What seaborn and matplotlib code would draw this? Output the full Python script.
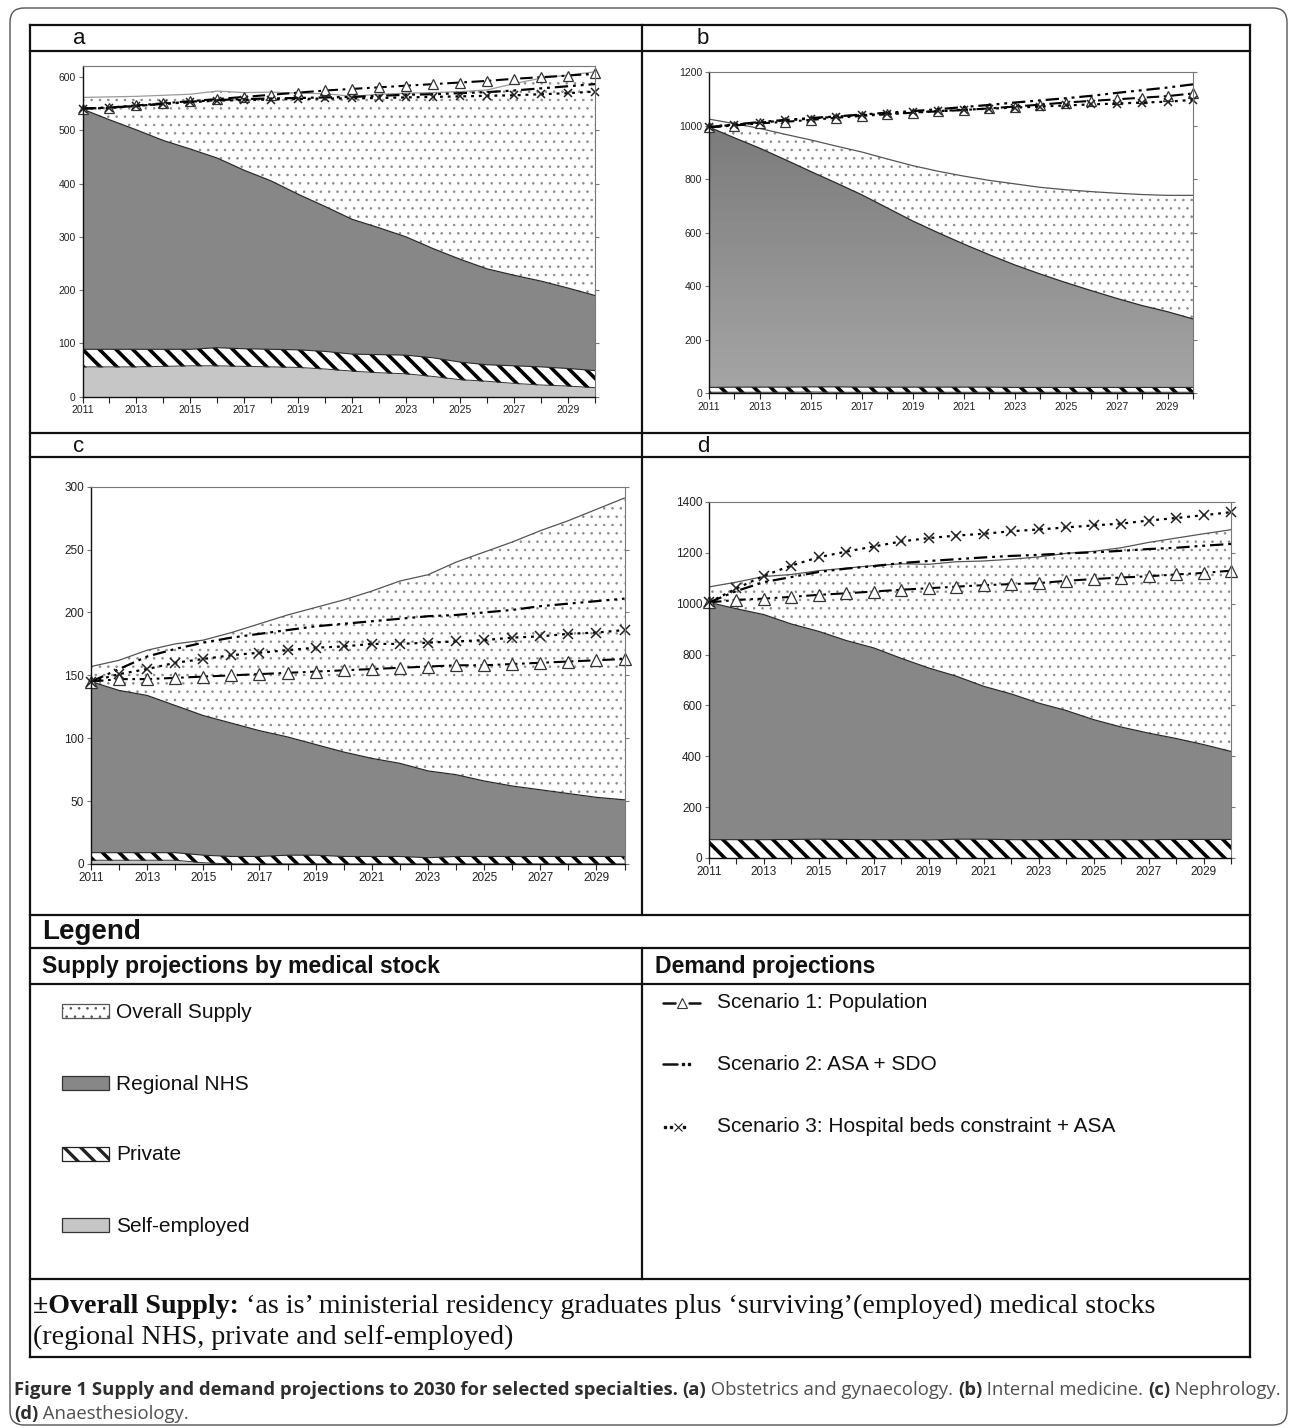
import numpy as np
import matplotlib
matplotlib.use("Agg")
import matplotlib.pyplot as plt
import seaborn as sns
from matplotlib.patches import Rectangle, FancyBboxPatch
from matplotlib.colors import LinearSegmentedColormap

# ---------------- data (levels) ----------------
years = list(range(2011, 2031))
tick_labels = ["2011", "2013", "2015", "2017", "2019", "2021", "2023", "2025", "2027", "2029"]

# (a) Obstetrics and gynaecology
a_self = [56, 56, 56, 57, 58, 58, 57, 56, 55, 52, 48, 45, 43, 38, 32, 29, 25, 22, 20, 17]
a_private = [89, 89, 89, 89, 89, 92, 90, 89, 88, 85, 80, 79, 78, 73, 65, 60, 58, 56, 53, 49]
a_nhs = [540, 520, 501, 481, 465, 448, 425, 405, 380, 357, 333, 317, 300, 278, 258, 240, 228, 217, 204, 190]
a_overall = [562, 563, 564, 566, 568, 574, 571, 572, 570, 569, 564, 568, 570, 571, 573, 576, 588, 598, 604, 610]
a_sc1 = [541, 543, 547, 551, 555, 559, 563, 567, 571, 575, 578, 581, 584, 587, 590, 593, 597, 600, 603, 607]
a_sc2 = [541, 543, 546, 550, 554, 557, 559, 560, 561, 562, 563, 565, 567, 568, 570, 572, 575, 579, 583, 587]
a_sc3 = [541, 542, 546, 550, 553, 556, 557, 558, 559, 560, 560, 561, 562, 563, 564, 565, 566, 568, 570, 573]

# (b) Internal medicine
b_self = [4, 4, 4, 4, 5, 4, 4, 4, 4, 4, 4, 4, 4, 4, 4, 4, 4, 4, 4, 4]
b_private = [22, 23, 23, 23, 24, 24, 23, 23, 23, 23, 23, 23, 22, 22, 22, 22, 22, 22, 22, 22]
b_nhs = [995, 955, 916, 873, 829, 786, 742, 693, 644, 600, 558, 518, 480, 446, 414, 384, 355, 328, 305, 278]
b_overall = [1025, 1008, 990, 968, 947, 924, 902, 876, 851, 830, 812, 796, 783, 770, 761, 754, 748, 743, 740, 740]
b_sc1 = [994, 1001, 1009, 1015, 1022, 1030, 1037, 1043, 1049, 1054, 1059, 1065, 1072, 1079, 1087, 1093, 1099, 1105, 1111, 1121]
b_sc2 = [995, 1005, 1014, 1022, 1029, 1035, 1042, 1049, 1055, 1062, 1070, 1078, 1087, 1095, 1103, 1112, 1123, 1133, 1143, 1155]
b_sc3 = [995, 1004, 1012, 1020, 1027, 1034, 1040, 1045, 1050, 1055, 1060, 1064, 1068, 1072, 1076, 1080, 1083, 1087, 1090, 1097]

# (c) Nephrology
c_self = [3, 3, 3, 3, 1, 0, 0, 0, 0, 0, 0, 0, 0, 0, 0, 0, 0, 0, 0, 0]
c_private = [9, 9, 9, 9, 7, 6, 6, 7, 7, 6, 6, 6, 5, 6, 6, 6, 6, 6, 6, 6]
c_nhs = [145, 138, 134, 126, 118, 112, 106, 101, 95, 89, 84, 80, 74, 71, 66, 62, 59, 56, 53, 51]
c_overall = [157, 162, 170, 175, 178, 184, 191, 198, 204, 210, 217, 225, 230, 240, 248, 256, 265, 273, 282, 291]
c_sc1 = [145, 147, 147, 148, 149, 150, 151, 152, 153, 154, 155, 156, 157, 158, 158, 159, 160, 161, 162, 163]
c_sc2 = [145, 155, 165, 171, 176, 180, 183, 186, 189, 191, 193, 195, 197, 198, 200, 202, 205, 207, 209, 211]
c_sc3 = [145, 151, 155, 160, 163, 166, 168, 170, 172, 173, 175, 175, 176, 177, 178, 180, 181, 183, 184, 186]

# (d) Anaesthesiology
d_self = [0, 0, 0, 0, 0, 0, 0, 0, 0, 0, 0, 0, 0, 0, 0, 0, 0, 0, 0, 0]
d_private = [72, 72, 72, 73, 74, 73, 72, 72, 71, 74, 74, 72, 72, 73, 72, 72, 72, 73, 73, 73]
d_nhs = [1005, 980, 957, 920, 891, 855, 826, 785, 747, 715, 675, 645, 609, 580, 544, 515, 491, 470, 446, 419]
d_overall = [1066, 1085, 1107, 1115, 1130, 1140, 1150, 1157, 1155, 1165, 1168, 1175, 1184, 1198, 1206, 1220, 1241, 1258, 1275, 1291]
d_sc1 = [1005, 1015, 1020, 1027, 1035, 1041, 1048, 1055, 1061, 1067, 1073, 1077, 1081, 1090, 1097, 1103, 1108, 1115, 1121, 1130]
d_sc2 = [1005, 1050, 1085, 1105, 1125, 1138, 1148, 1160, 1168, 1175, 1182, 1188, 1192, 1198, 1202, 1208, 1215, 1220, 1228, 1235]
d_sc3 = [1005, 1060, 1110, 1150, 1183, 1205, 1225, 1245, 1258, 1268, 1275, 1285, 1292, 1300, 1308, 1315, 1327, 1337, 1348, 1360]

panel_letters = ["a", "b", "c", "d"]
supply_labels = ["Overall Supply", "Regional NHS", "Private", "Self-employed"]
demand_labels = ["Scenario 1: Population", "Scenario 2: ASA + SDO",
                 "Scenario 3: Hospital beds constraint + ASA"]

# ---------------- style ----------------
W, H = 1290, 1428
sns.set_theme(style="white")
plt.rcParams["font.family"] = ["Liberation Sans", "DejaVu Sans"]
plt.rcParams["hatch.linewidth"] = 1.0

fig = plt.figure(figsize=(W / 100, H / 100), dpi=100)
fig.patch.set_facecolor("white")

NHS_COL = "#878787"
SELF_COL = "#c6c6c6"
DOT_COL = "#8a8a8a"
DOT_LW = 0.6
LS1 = (0, (6, 2.2, 1.3, 2.2))
LS2 = (0, (6, 2.2, 1.3, 2.2, 1.3, 2.2))
LS3 = (0, (1.3, 2.2))


def set_hlw(coll, lw):
    try:
        coll.set_hatch_linewidth(lw)
    except Exception:
        pass


def px_axes(l, t, r, b):
    return fig.add_axes([l / W, 1 - b / H, (r - l) / W, (b - t) / H])


def draw_panel(ax, s_self, s_priv, s_nhs, s_over, sc1, sc2, sc3, ylim, ystep,
               tfs, ms, grad=False, top_col="#555555"):
    x = years
    with plt.rc_context({"hatch.linewidth": DOT_LW}):
        over = ax.fill_between(x, 0, s_over, facecolor="white", edgecolor=DOT_COL,
                               hatch="..", linewidth=0, zorder=1)
    set_hlw(over, DOT_LW)
    nhs = ax.fill_between(x, 0, s_nhs, facecolor=NHS_COL, linewidth=0, zorder=2)
    if grad:
        nhs.set_facecolor("none")
        cmap = LinearSegmentedColormap.from_list("g", ["#a6a6a6", "#7b7b7b"])
        im = ax.imshow(np.linspace(0, 1, 256).reshape(-1, 1), extent=[2011, 2030, 0, max(s_nhs)],
                       origin="lower", aspect="auto", cmap=cmap, zorder=2,
                       interpolation="bilinear")
        im.set_clip_path(nhs.get_paths()[0], transform=ax.transData)
    with plt.rc_context({"hatch.linewidth": 2.6}):
        pr = ax.fill_between(x, 0, s_priv, facecolor="white", edgecolor="black",
                             hatch="\\\\", linewidth=0, zorder=3)
    set_hlw(pr, 2.6)
    if max(s_self) > 0:
        ax.fill_between(x, 0, s_self, facecolor=SELF_COL, linewidth=0, zorder=4)
        sns.lineplot(x=x, y=s_self, ax=ax, color="#333333", lw=0.7, legend=False, zorder=4.5)

    sns.lineplot(x=x, y=s_over, ax=ax, color=top_col, lw=0.9, legend=False, zorder=4.5)
    sns.lineplot(x=x, y=s_nhs, ax=ax, color="#2a2a2a", lw=0.9, legend=False, zorder=4.5)
    sns.lineplot(x=x, y=s_priv, ax=ax, color="#2a2a2a", lw=0.8, legend=False, zorder=4.5)

    sns.lineplot(x=x, y=sc1, ax=ax, color="black", lw=1.5, linestyle=LS1, marker="^",
                 markersize=ms, markerfacecolor="white", markeredgecolor="#333333",
                 markeredgewidth=0.9, legend=False, zorder=6, clip_on=False)
    sns.lineplot(x=x, y=sc2, ax=ax, color="black", lw=1.6, linestyle=LS2,
                 legend=False, zorder=6, clip_on=False)
    sns.lineplot(x=x, y=sc3, ax=ax, color="black", lw=1.6, linestyle=LS3, marker="x",
                 markersize=ms * 0.85, markeredgecolor="#222222", markeredgewidth=1.1,
                 legend=False, zorder=6, clip_on=False)

    ax.set_xlim(2011, 2030)
    ax.set_ylim(*ylim)
    ax.set_xticks(years)
    lab_map = {int(t): t for t in tick_labels}
    ax.set_xticklabels([lab_map.get(y, "") for y in years])
    ax.set_yticks(np.arange(0, ylim[1] + 1, ystep))
    ax.set_xlabel("")
    ax.set_ylabel("")
    ax.tick_params(axis="both", which="major", direction="out", length=4, width=0.8,
                   color="#222222", labelsize=tfs, labelcolor="#222222", pad=2,
                   bottom=True, left=True)
    ax.tick_params(axis="y", right=True, length=3, color="#777777")
    ax.grid(False)
    ax.set_facecolor("white")
    for side in ["left", "bottom"]:
        ax.spines[side].set_color("#111111")
        ax.spines[side].set_linewidth(1.0)
    for side in ["top", "right"]:
        ax.spines[side].set_color("#777777")
        ax.spines[side].set_linewidth(0.8)
    for sp in ax.spines.values():
        sp.set_zorder(7)


axA = px_axes(82.5, 66, 595, 396.7)
draw_panel(axA, a_self, a_private, a_nhs, a_overall, a_sc1, a_sc2, a_sc3,
           (0, 621), 100, 7.5, 6.5, top_col="#9a9a9a")
axB = px_axes(709, 72.3, 1193, 393.3)
draw_panel(axB, b_self, b_private, b_nhs, b_overall, b_sc1, b_sc2, b_sc3,
           (0, 1200), 200, 7.5, 6.5, grad=True)
axC = px_axes(91, 486.7, 624.5, 864)
draw_panel(axC, c_self, c_private, c_nhs, c_overall, c_sc1, c_sc2, c_sc3,
           (0, 300), 50, 8.5, 8.5)
axD = px_axes(709, 502, 1231, 858)
draw_panel(axD, d_self, d_private, d_nhs, d_overall, d_sc1, d_sc2, d_sc3,
           (0, 1400), 200, 8.5, 8.5)

# ---------------- overlay (table, legend, notes) ----------------
ov = fig.add_axes([0, 0, 1, 1], zorder=10)
ov.set_xlim(0, W)
ov.set_ylim(H, 0)
ov.axis("off")
ov.patch.set_alpha(0)


def hline(y, x0=30, x1=1250, lw=1.6):
    ov.plot([x0, x1], [y, y], color="#111111", lw=lw, solid_capstyle="projecting")


def vline(x, y0, y1, lw=1.6):
    ov.plot([x, x], [y0, y1], color="#111111", lw=lw, solid_capstyle="projecting")


ov.add_patch(FancyBboxPatch((10, 8), 1277, 1417, boxstyle="round,pad=0,rounding_size=14",
                            fill=False, ec="#555555", lw=1.0, clip_on=False))
for y in [24.5, 51, 433, 457, 915, 948, 984, 1279, 1357]:
    hline(y)
vline(30, 24.5, 1357)
vline(1250, 24.5, 1357)
vline(641.5, 24.5, 915)
vline(641.5, 948, 1279)

for letter, (lx, ly) in zip(panel_letters, [(79, 38), (703, 38), (79, 446), (703, 446)]):
    ov.text(lx, ly, letter, fontsize=16, ha="center", va="center", color="#111111")

ov.text(42, 932, "Legend", fontsize=20, fontweight="bold", ha="left", va="center", color="#111111")
ov.text(42, 967, "Supply projections by medical stock", fontsize=16.6, fontweight="bold",
        ha="left", va="center", color="#111111")
ov.text(655, 967, "Demand projections", fontsize=16.6, fontweight="bold",
        ha="left", va="center", color="#111111")

# supply swatches
sw_y = [1011, 1083, 1154, 1225]
sw_style = [dict(facecolor="white", hatch="..", hl=DOT_LW, ec="#555555"),
            dict(facecolor=NHS_COL, hl=1.0, ec="#333333"),
            dict(facecolor="white", hatch="\\\\", hl=2.4, ec="#222222"),
            dict(facecolor=SELF_COL, hl=1.0, ec="#333333")]
for lab, cy, st in zip(supply_labels, sw_y, sw_style):
    st = dict(st)
    hl = st.pop("hl")
    ec = st.pop("ec")
    with plt.rc_context({"hatch.linewidth": hl}):
        r = Rectangle((62, cy - 7), 47, 14, edgecolor=ec, lw=0.9, **st)
    set_hlw(r, hl)
    ov.add_patch(r)
    ov.text(116, cy + 1, lab, fontsize=15, ha="left", va="center", color="#111111")

# demand samples
dm_y = [1003, 1064, 1127]
cy = dm_y[0]
ov.plot([663, 675], [cy, cy], color="#111111", lw=1.8)
ov.plot([689, 700], [cy, cy], color="#111111", lw=1.8)
ov.plot([682], [cy], marker="^", ms=6.5, mfc="white", mec="#333333", mew=0.8)
cy = dm_y[1]
ov.plot([663, 677], [cy, cy], color="#111111", lw=1.8)
ov.plot([683, 689], [cy, cy], color="#111111", lw=0, marker="s", ms=1.6)
cy = dm_y[2]
ov.plot([665, 671, 684], [cy, cy, cy], color="#111111", lw=0, marker="s", ms=1.6)
ov.plot([677.5], [cy], marker="x", ms=5.5, mec="#222222", mew=0.8)
for lab, cy in zip(demand_labels, dm_y):
    ov.text(717, cy, lab, fontsize=15, ha="left", va="center", color="#111111")

# text runs helper
renderer = fig.canvas.get_renderer()


def tw(s, **kw):
    t1 = ov.text(0, 0, "|" + s + "|", **kw)
    w1 = t1.get_window_extent(renderer).width
    t1.remove()
    t2 = ov.text(0, 0, "||", **kw)
    w2 = t2.get_window_extent(renderer).width
    t2.remove()
    return w1 - w2


def runs(x, y, parts, size, family, target=None):
    if target is not None:
        tot = sum(tw(s, fontsize=size, family=family, fontweight=wt) for s, wt, c in parts)
        size = size * target / tot
    for s, wt, c in parts:
        ov.text(x, y, s, fontsize=size, family=family, fontweight=wt, color=c,
                ha="left", va="baseline")
        x += tw(s, fontsize=size, family=family, fontweight=wt)
    return size


serif = ["Liberation Serif", "DejaVu Serif"]
fs = runs(33, 1313, [("\u00b1Overall Supply:", "bold", "#111111"),
                     (" \u2018as is\u2019 ministerial residency graduates plus \u2018surviving\u2019(employed) medical stocks",
                      "normal", "#111111")], 17, serif, target=1124)
runs(33, 1344, [("(regional NHS, private and self-employed)", "normal", "#111111")], fs, serif)

cap = ["Open Sans", "DejaVu Sans"]
BC, RC = "#2e2e2e", "#505050"
cs = runs(14, 1395, [("Figure 1 Supply and demand projections to 2030 for selected specialties.", "bold", BC),
                     (" ", "normal", RC), ("(a)", "bold", BC), (" Obstetrics and gynaecology. ", "normal", RC),
                     ("(b)", "bold", BC), (" Internal medicine. ", "normal", RC),
                     ("(c)", "bold", BC), (" Nephrology.", "normal", RC)], 12, cap, target=1257)
runs(14, 1419, [("(d)", "bold", BC), (" Anaesthesiology.", "normal", RC)], cs, cap)

fig.savefig("out.png", dpi=100, facecolor="white")
